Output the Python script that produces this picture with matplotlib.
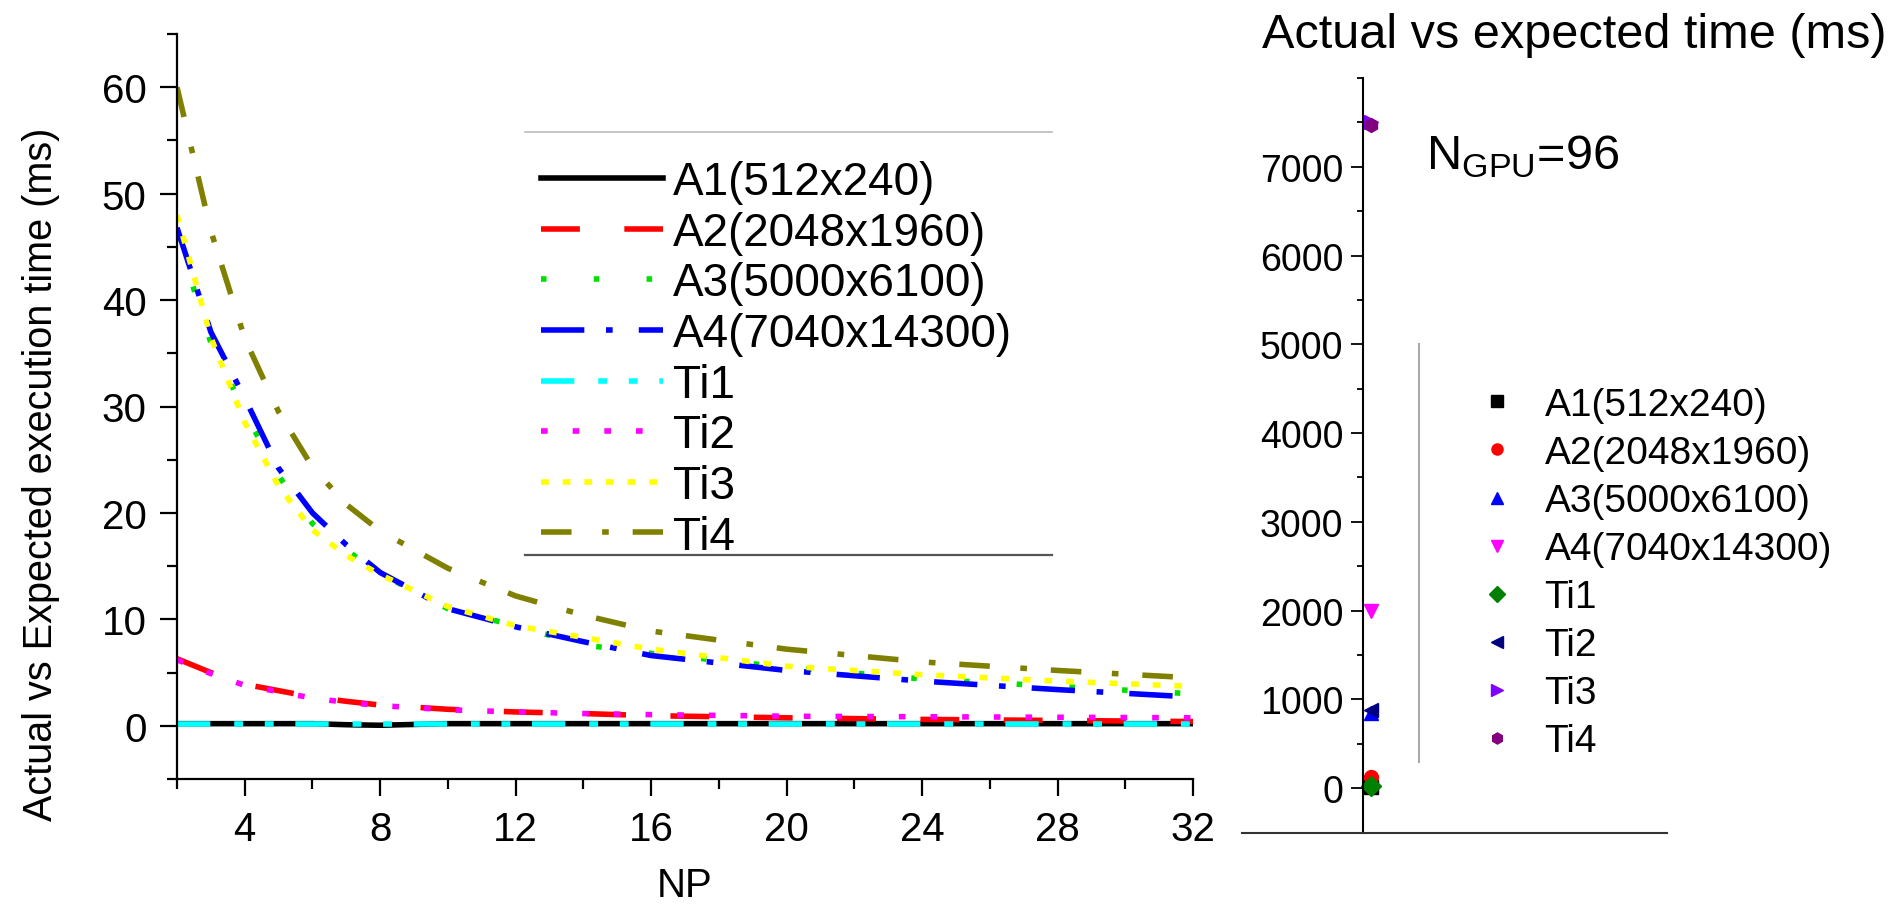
import matplotlib
matplotlib.use('Agg')
import matplotlib.pyplot as plt
from matplotlib.lines import Line2D
from matplotlib.ticker import MultipleLocator

plt.rcParams['font.family'] = ['Liberation Sans', 'DejaVu Sans']
plt.rcParams['mathtext.fontset'] = 'custom'
plt.rcParams['mathtext.rm'] = 'Liberation Sans'

# ---- data: left panel (execution time vs NP) ----
np_vals = [2, 3, 4, 5, 6, 7, 8, 10, 12, 14, 16, 20, 24, 28, 32]
a1 = [0.2, 0.2, 0.2, 0.2, 0.2, 0.1, 0.05, 0.2, 0.2, 0.2, 0.2, 0.2, 0.2, 0.2, 0.2]
a2 = [6.3, 5.0, 3.9, 3.3, 2.7, 2.3, 1.95, 1.55, 1.3, 1.15, 0.95, 0.75, 0.6, 0.5, 0.4]
a3 = [46.0, 36.0, 29.5, 23.5, 19.0, 16.5, 14.3, 11.0, 9.4, 7.6, 6.8, 5.5, 4.4, 3.7, 3.0]
a4 = [46.8, 37.0, 30.8, 24.2, 20.0, 17.0, 14.4, 11.0, 9.3, 7.9, 6.6, 5.2, 4.2, 3.4, 2.7]
ti1 = [0.2, 0.2, 0.2, 0.2, 0.2, 0.2, 0.2, 0.2, 0.2, 0.2, 0.2, 0.2, 0.2, 0.2, 0.2]
ti2 = [6.2, 4.9, 3.8, 3.2, 2.6, 2.2, 1.9, 1.5, 1.3, 1.15, 1.05, 0.9, 0.85, 0.8, 0.75]
ti3 = [48.0, 36.5, 28.5, 22.5, 18.4, 16.0, 14.2, 11.2, 9.4, 8.3, 7.2, 5.6, 4.8, 4.2, 3.7]
ti4 = [60.0, 46.5, 36.4, 29.5, 24.3, 20.8, 18.3, 14.8, 12.2, 10.4, 8.9, 7.2, 6.0, 5.2, 4.5]

labels = ['A1(512x240)', 'A2(2048x1960)', 'A3(5000x6100)', 'A4(7040x14300)',
          'Ti1', 'Ti2', 'Ti3', 'Ti4']
line_colors = ['black', '#FF0000', '#00E000', '#0000FF',
               '#00FFFF', '#FF00FF', '#FFFF00', '#808000']
line_styles = ['-', (0, (7, 8)), (0, (1, 8.5)), (0, (7.8, 3.9, 1.2, 4.7)),
               (0, (6, 4.3, 1.6, 3.9, 1.6, 3.9)), (0, (1.2, 4.5)),
               (0, (1.4, 2.5)), (0, (5.5, 5.5, 1.2, 4.3))]

# ---- data: right panel (N_GPU = 96) ----
gpu_x = [0.06, 0.06, 0.06, 0.06, 0.06, 0.06, 0.06, 0.06]
gpu_time = [10, 120, 850, 2000, 20, 880, 7500, 7470]
gpu_colors = ['black', '#FF0000', '#0000FF', '#FF00FF',
              '#008000', '#000080', '#8000FF', '#800080']
gpu_markers = ['s', 'o', '^', 'v', 'D', '<', '>', 'h']

W, H = 1888, 912
fig = plt.figure(figsize=(W / 100, H / 100), dpi=100)


def fx(x):
    return x / W


def fy(y):
    return 1 - y / H


# ---------------- left panel ----------------
ax = fig.add_axes([fx(177), fy(780), fx(1193) - fx(177), fy(35) - fy(780)])
series = [a1, a2, a3, a4, ti1, ti2, ti3, ti4]
handles = []
for vals, c, ls, lab in zip(series, line_colors, line_styles, labels):
    h, = ax.plot(np_vals, vals, color=c, linestyle=ls, linewidth=4, label=lab)
    handles.append(h)

ax.set_xlim(2, 32)
ax.set_ylim(-5, 65)
ax.xaxis.set_minor_locator(MultipleLocator(2))
ax.yaxis.set_minor_locator(MultipleLocator(5))
ax.set_yticks([0, 10, 20, 30, 40, 50, 60])
ax.set_xticks([4, 8, 12, 16, 20, 24, 28, 32])
for s in ['top', 'right']:
    ax.spines[s].set_visible(False)
for s in ['left', 'bottom']:
    ax.spines[s].set_linewidth(1.6)
ax.tick_params(which='major', direction='out', length=12, width=1.6,
               labelsize=29, pad=10)
ax.tick_params(which='minor', direction='out', length=7, width=1.6)

ax.set_xlabel('NP', fontsize=29)
ax.xaxis.set_label_coords(0.5, -0.117)
ax.set_ylabel('Actual vs Expected execution time (ms)', fontsize=28.5)
ax.yaxis.set_label_coords(-0.115, 0.41)

leg = ax.legend(handles, labels, loc='upper left',
                bbox_to_anchor=(fx(541), fy(161)), bbox_transform=fig.transFigure,
                frameon=False, fontsize=33, handlelength=2.66, handletextpad=0.22,
                labelspacing=0.145, borderpad=0, borderaxespad=0)

# partial legend frame (top light, bottom dark)
fig.add_artist(Line2D([fx(525), fx(1052)], [fy(133), fy(133)],
                      color='#BBBBBB', linewidth=1.2))
fig.add_artist(Line2D([fx(525), fx(1052)], [fy(556), fy(556)],
                      color='#555555', linewidth=1.6))

# ---------------- right panel ----------------
ax2 = fig.add_axes([fx(1242), fy(833.5), fx(1667) - fx(1242), fy(79) - fy(833.5)])
for xv, yv, c, m, lab in zip(gpu_x, gpu_time, gpu_colors, gpu_markers, labels):
    ax2.plot([xv], [yv], linestyle='none', marker=m, color=c, markersize=10, label=lab)

ax2.set_xlim(-1, 2.5)
ax2.set_ylim(-500, 8000)
ax2.spines['left'].set_position(('data', 0))
ax2.spines['left'].set_linewidth(1.5)
ax2.spines['bottom'].set_linewidth(1.5)
ax2.spines['bottom'].set_color('#333333')
for s in ['top', 'right']:
    ax2.spines[s].set_visible(False)
ax2.set_xticks([])
ax2.yaxis.set_minor_locator(MultipleLocator(500))
ax2.set_yticks([0, 1000, 2000, 3000, 4000, 5000, 6000, 7000])
ax2.tick_params(which='major', direction='out', length=8.5, width=1.3,
                labelsize=27, pad=6)
ax2.tick_params(which='minor', direction='out', length=4.5, width=1.3)

ax2.legend(loc='upper left', bbox_to_anchor=(fx(1478), fy(388)),
           bbox_transform=fig.transFigure, frameon=False, fontsize=28,
           handlelength=1.0, handletextpad=0.71, labelspacing=0.31,
           borderpad=0, borderaxespad=0, markerscale=0.8)

fig.add_artist(Line2D([fx(1419), fx(1419)], [fy(345), fy(763)],
                      color='#AAAAAA', linewidth=1.5))

fig.text(fx(1574), fy(36), 'Actual vs expected time (ms)', fontsize=35,
         ha='center', va='center')
fig.text(fx(1426), fy(170), r'N$_{\mathrm{GPU}}$=96', fontsize=35,
         ha='left', va='baseline')

fig.savefig('out.png', dpi=100)
